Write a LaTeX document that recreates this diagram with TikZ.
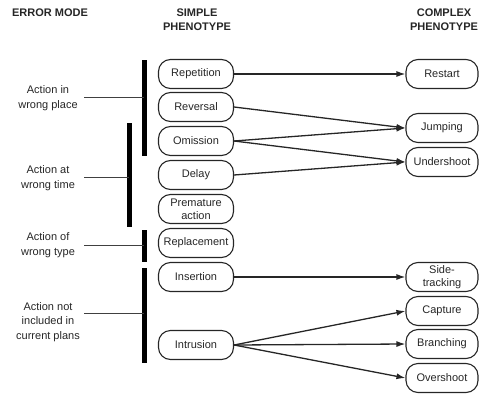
\documentclass[tikz,border=0pt]{standalone}
\usepackage{fontspec}
\setmainfont{Liberation Sans}
\usetikzlibrary{arrows.meta}
\begin{document}
\begin{tikzpicture}[x=1pt,y=-1pt,
  box/.style={draw=black!85, line width=1.1pt, rounded corners=12pt,
    minimum height=29pt, inner sep=1pt, align=center,
    font=\fontsize{11}{13}\selectfont, text=black!85},
  simple/.style={box, minimum width=75pt},
  complex/.style={box, minimum width=72pt},
  bar/.style={line width=5pt, draw=black},
  lead/.style={line width=0.8pt, draw=black!75},
  link/.style={line width=1.3pt, draw=black!85, -{Latex[length=9pt,width=6pt]}},
  head/.style={font=\bfseries\fontsize{11}{14}\selectfont, align=center, text=black!85},
  mode/.style={font=\fontsize{11}{14.5}\selectfont, align=center, text=black!85}]

\useasboundingbox (0,0) rectangle (481,396);

% column headings
\node[head] (hmode) at (50,13) {ERROR MODE};
\node[head] (hsimple) at (197,20) {SIMPLE\\PHENOTYPE};
\node[head] (hcomplex) at (444,20) {COMPLEX\\PHENOTYPE};

% simple phenotypes
\node[simple] (rep) at (196,74) {Repetition};
\node[simple] (rev) at (196,107) {Reversal};
\node[simple] (omi) at (196,141) {Omission};
\node[simple] (del) at (196,175) {Delay};
\node[simple] (pre) at (196,209) {Premature\\action};
\node[simple] (repl) at (196,243) {Replacement};
\node[simple] (ins) at (196,277) {Insertion};
\node[simple] (intr) at (196,345) {Intrusion};

% complex phenotypes
\node[complex] (rst) at (442,74) {Restart};
\node[complex] (jmp) at (442,128) {Jumping};
\node[complex] (und) at (442,162) {Undershoot};
\node[complex] (sid) at (442,277) {Side-\\tracking};
\node[complex] (cap) at (442,311) {Capture};
\node[complex] (brn) at (442,344) {Branching};
\node[complex] (ovr) at (442,378) {Overshoot};

% error modes
\node[mode] (m1) at (48,98) {Action in\\wrong place};
\node[mode] (m2) at (48,178) {Action at\\wrong time};
\node[mode] (m3) at (48,245) {Action of\\wrong type};
\node[mode] (m4) at (48,322) {Action not\\included in\\current plans};

% grouping bars
\coordinate (b1t) at (144,60);  \coordinate (b1b) at (144,156);
\coordinate (b2t) at (129,123); \coordinate (b2b) at (129,227);
\coordinate (b3t) at (144,230); \coordinate (b3b) at (144,262);
\coordinate (b4t) at (144,268); \coordinate (b4b) at (144,363);
\draw[bar] (b1t) -- (b1b);
\draw[bar] (b2t) -- (b2b);
\draw[bar] (b3t) -- (b3b);
\draw[bar] (b4t) -- (b4b);

% leader lines from modes to bars
\coordinate (l1) at (84,97);
\coordinate (l2) at (84,177);
\coordinate (l3) at (84,245);
\coordinate (l4) at (84,313);
\draw[lead] (l1) -- (l1 -| b1t);
\draw[lead] (l2) -- (l2 -| b2t);
\draw[lead] (l3) -- (l3 -| b3t);
\draw[lead] (l4) -- (l4 -| b4t);

% simple to complex
\draw[link] (rep.east) -- (rst.west);
\draw[link] (rev.east) -- (jmp.west);
\draw[link] (omi.east) -- (jmp.west);
\draw[link] (omi.east) -- (und.west);
\draw[link] (del.east) -- (und.west);
\draw[link] (ins.east) -- (sid.west);
\draw[link] (intr.east) -- (cap.west);
\draw[link] (intr.east) -- (brn.west);
\draw[link] (intr.east) -- (ovr.west);
\end{tikzpicture}
\end{document}
